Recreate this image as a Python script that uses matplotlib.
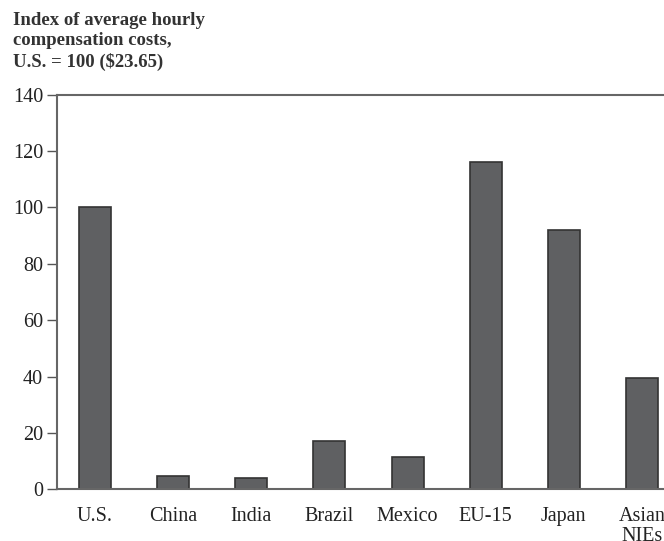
import matplotlib
matplotlib.use("Agg")
import matplotlib.pyplot as plt

categories = ["U.S.", "China", "India", "Brazil", "Mexico", "EU-15", "Japan", "Asian\nNIEs"]
index_values = [100, 4.7, 4.1, 17.2, 11.4, 116.1, 92.0, 39.4]
y_ticks = [0, 20, 40, 60, 80, 100, 120, 140]

plt.rcParams["font.family"] = ["Liberation Serif", "DejaVu Serif"]

fig = plt.figure(figsize=(6.64, 5.41), dpi=100)
# axes run past the right edge of the figure
ax = fig.add_axes([57 / 664, 51.7 / 541, 623 / 664, 394.6 / 541])

x = list(range(len(categories)))
ax.bar(x, index_values, width=0.41, color="#5f6062", edgecolor="#333333",
       linewidth=1.2, zorder=2)

ax.set_xlim(-0.487, 7.487)
ax.set_ylim(0, 140)
ax.set_yticks(y_ticks)
ax.set_yticklabels([str(v) for v in y_ticks], fontsize=14.5, color="#222222")
ax.set_xticks(x)
ax.set_xticklabels(categories, fontsize=14.5, color="#222222", va="top",
                   linespacing=1.05)

ax.tick_params(axis="y", direction="out", length=7, width=1.0,
               color="#555555", pad=3)
ax.tick_params(axis="x", length=0, pad=13)

for side in ["left", "bottom", "top", "right"]:
    ax.spines[side].set_color("#666666")
    ax.spines[side].set_linewidth(1.5)

fig.text(13 / 664, 1 - 12 / 541,
         "Index of average hourly\ncompensation costs,\nU.S. = 100 ($23.65)",
         ha="left", va="top", fontsize=13.5, fontweight="bold",
         color="#333333", linespacing=1.25)

fig.savefig("out.png", dpi=100)
